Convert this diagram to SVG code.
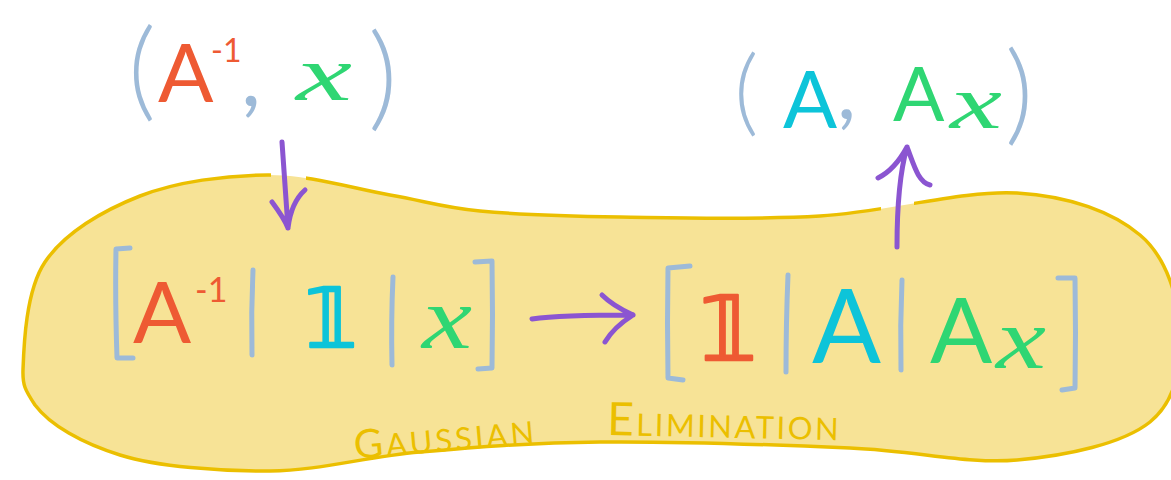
<svg xmlns="http://www.w3.org/2000/svg" width="1171" height="480" viewBox="0 0 1171 480">
<defs>
<style>
.delim{fill:none;stroke:#9DBAD8;stroke-width:5;stroke-linecap:round;stroke-linejoin:round}
.paren{font-family:Lato,"DejaVu Sans",sans-serif;font-weight:300;fill:#9DBAD8}
.comma{font-family:Lato,"DejaVu Sans",sans-serif;font-weight:400;fill:#9DBAD8}
.arrow{fill:none;stroke:#8B55D1;stroke-width:5;stroke-linecap:round;stroke-linejoin:round}
.let{font-family:Lato,"Liberation Sans",sans-serif;font-weight:400}
.var{font-family:"Liberation Serif",serif;font-style:italic}
.one{font-family:"DejaVu Sans",sans-serif;stroke-width:2.5;stroke-linejoin:round}
.orange{fill:#EE5A33;stroke:#EE5A33}
.cyan{fill:#0DC4D9;stroke:#0DC4D9}
.green{fill:#2FD673;stroke:#2FD673}
.let.orange,.let.cyan,.let.green,.var{stroke:none}
.lbl{font-family:Lato,"Liberation Sans",sans-serif;fill:#EBBF00;font-size:31px}
</style>
<clipPath id="gaps">
<path clip-rule="evenodd" d="M-10,-10H1190V490H-10Z M271,160H306V192H271Z M881,190H914V225H881Z"/>
</clipPath>
</defs>
<rect width="1171" height="480" fill="#FFFFFF"/>

<g id="gaussian-elimination">
<path id="blob-fill" fill="#F7E396" d="M23,370 C23.8,347 25.5,291 45,262 C64.5,233 102.8,210.5 140,196 C177.2,181.5 226.3,175.2 268,175 C309.7,174.8 354.7,189 390,195 C425.3,201 441.7,207.3 480,211 C518.3,214.7 563.3,216.2 620,217 C676.7,217.8 753.8,220 820,216 C886.2,212 963.7,189.8 1017,193 C1070.3,196.2 1112.8,212.2 1140,235 C1167.2,257.8 1178.3,298.8 1180,330 C1181.7,361.2 1177.2,400.3 1150,422 C1122.8,443.7 1067,455.7 1017,460 C967,464.3 919.5,451 850,448 C780.5,445 671.7,441.3 600,442 C528.3,442.7 475,447.2 420,452 C365,456.8 320,470.5 270,471 C220,471.5 158.3,466.8 120,455 C81.7,443.2 50,425 35,405 C25,390 22.5,385 23,370 Z"/>
<path id="blob-outline" clip-path="url(#gaps)" fill="none" stroke="#EBBF00" stroke-width="3.5" stroke-linejoin="round" d="M23,370 C23.8,347 25.5,291 45,262 C64.5,233 102.8,210.5 140,196 C177.2,181.5 226.3,175.2 268,175 C309.7,174.8 354.7,189 390,195 C425.3,201 441.7,207.3 480,211 C518.3,214.7 563.3,216.2 620,217 C676.7,217.8 753.8,220 820,216 C886.2,212 963.7,189.8 1017,193 C1070.3,196.2 1112.8,212.2 1140,235 C1167.2,257.8 1178.3,298.8 1180,330 C1181.7,361.2 1177.2,400.3 1150,422 C1122.8,443.7 1067,455.7 1017,460 C967,464.3 919.5,451 850,448 C780.5,445 671.7,441.3 600,442 C528.3,442.7 475,447.2 420,452 C365,456.8 320,470.5 270,471 C220,471.5 158.3,466.8 120,455 C81.7,443.2 50,425 35,405 C25,390 22.5,385 23,370 Z"/>
<text class="lbl" x="355" y="459" letter-spacing="3" transform="rotate(-5 355 459)"><tspan font-size="40">G</tspan>AUSSIAN</text>
<text class="lbl" x="607" y="435" letter-spacing="2.5" transform="rotate(1.3 607 435)"><tspan font-size="46">E</tspan>LIMINATION</text>
</g>

<g id="input-pair">
<text class="paren" x="128" y="107" font-size="108">(</text>
<text class="let orange" x="158" y="102" font-size="82">A<tspan x="211" y="62" font-size="32">-1</tspan></text>
<text class="comma" x="241" y="106" font-size="88">,</text>
<text class="var green" x="296" y="100" font-size="78" textLength="56" lengthAdjust="spacingAndGlyphs">x</text>
<text class="paren" x="368" y="116" font-size="115">)</text>
</g>

<g id="output-pair">
<text class="paren" x="734" y="124" font-size="95">(</text>
<text class="let cyan" x="783" y="128" font-size="80">A</text>
<text class="comma" x="837" y="119" font-size="84">,</text>
<text class="let green" x="893" y="121" font-size="76">A</text>
<text class="var green" x="950" y="128" font-size="76" textLength="52" lengthAdjust="spacingAndGlyphs">x</text>
<text class="paren" x="1005" y="131" font-size="110">)</text>
</g>

<g id="matrix-left">
<path class="delim" d="M130,248 L116,249 Q115,300 117,358 L133,358"/>
<path class="delim" d="M253,270 Q251,312 252,355"/>
<text class="let orange" x="133" y="343" font-size="86">A<tspan x="195" y="302" font-size="34">-1</tspan></text>
<text class="one cyan" x="305" y="347" font-size="82">𝟙</text>
<path class="delim" d="M393,277 Q391,320 392,365"/>
<text class="var green" x="422" y="348" font-size="88" textLength="50" lengthAdjust="spacingAndGlyphs">x</text>
<path class="delim" d="M475,262 L492,261 Q493,315 492,368 L478,369"/>
</g>

<g id="matrix-right">
<path class="delim" d="M690,266 L668,268 Q667,322 668,378 L683,380"/>
<text class="one orange" x="700" y="360" font-size="89">𝟙</text>
<path class="delim" d="M788,275 Q786,322 786,372"/>
<text class="let cyan" x="812" y="363" font-size="102">A</text>
<path class="delim" d="M902,280 Q900,325 901,370"/>
<text class="let green" x="930" y="363" font-size="92">A</text>
<text class="var green" x="996" y="368" font-size="86" textLength="50" lengthAdjust="spacingAndGlyphs">x</text>
<path class="delim" d="M1058,278 L1075,278 Q1076,333 1075,388 L1062,390"/>
</g>

<g id="connectors">
<path class="arrow" d="M282,142 C284,170 286,200 288,228 M272,202 C278,210 284,218 288,228 M305,190 C296,198 290,212 288,228"/>
<path class="arrow" d="M532,319 C560,315 600,315 633,315 M602,295 C612,305 622,310 633,315 M605,342 C612,330 622,322 633,315"/>
<path class="arrow" d="M897,247 C897,210 899,175 907,147 M878,178 C890,172 900,160 907,147 M930,185 C918,182 914,165 907,147"/>
</g>
</svg>
